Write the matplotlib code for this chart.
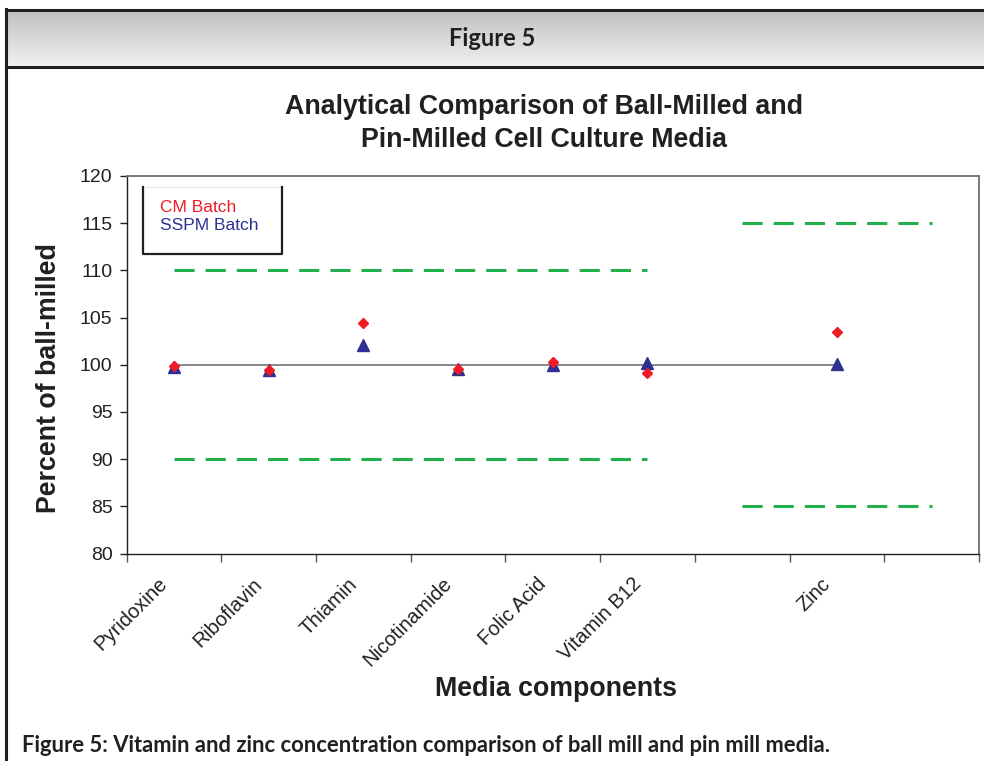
import numpy as np
import matplotlib
matplotlib.use("Agg")
import matplotlib.pyplot as plt
from matplotlib.lines import Line2D
from matplotlib.transforms import ScaledTranslation
from matplotlib.colors import LinearSegmentedColormap

# ---------------- data ----------------
categories = ["Pyridoxine", "Riboflavin", "Thiamin", "Nicotinamide", "Folic Acid",
              "Vitamin B12", "", "Zinc", ""]
cm_batch = [99.9, 99.4, 104.4, 99.6, 100.3, 99.1, None, 103.5, None]
sspm_batch = [99.8, 99.4, 102.1, 99.5, 100.0, 100.2, None, 100.1, None]
reference_line = [100, 100, 100, 100, 100, 100, 100, 100, None]
vit_upper = [110, 110, 110, 110, 110, 110, None, None, None]
vit_lower = [90, 90, 90, 90, 90, 90, None, None, None]
zinc_upper = [None, None, None, None, None, None, 115, 115, 115]
zinc_lower = [None, None, None, None, None, None, 85, 85, 85]
y_ticks = [80, 85, 90, 95, 100, 105, 110, 115, 120]

W, H = 984, 761
fig = plt.figure(figsize=(W / 100, H / 100), dpi=100)
fig.patch.set_facecolor("white")

def fx(px):
    return px / W

def fy(py):
    return 1 - py / H

def arr(v):
    return np.array([np.nan if a is None else a for a in v], dtype=float)

x = np.arange(len(categories))

# ---------------- header band ----------------
hax = fig.add_axes([fx(6), fy(67), fx(W) - fx(6), fy(10) - fy(67)])
grad = np.linspace(0, 1, 100).reshape(-1, 1)
cmap = LinearSegmentedColormap.from_list("hdr", ["#bfc0c0", "#f0f1f0"])
hax.imshow(grad, aspect="auto", cmap=cmap, extent=[0, 1, 0, 1], origin="upper")
hax.set_axis_off()
fig.text(fx(492), fy(39), "Figure 5", ha="center", va="center",
         fontsize=17, fontweight="bold", family="Lato", color="#231f20")

# borders
fig.add_artist(Line2D([fx(6), 1], [fy(10), fy(10)], color="#231f20", lw=2.2))
fig.add_artist(Line2D([fx(6), 1], [fy(67), fy(67)], color="#231f20", lw=2.2))
fig.add_artist(Line2D([fx(6), fx(6)], [fy(9), 0], color="#231f20", lw=2.2))

# ---------------- main axes ----------------
ax = fig.add_axes([fx(126.5), fy(553.5), fx(979) - fx(126.5), fy(176) - fy(553.5)])
ax.set_xlim(-0.5, len(categories) - 0.5)
ax.set_ylim(80, 120)

green = "#21b04b"
dash = dict(color=green, lw=2.2, dashes=(6.6, 3.6), dash_capstyle="butt", zorder=2)
ax.plot(x, arr(vit_upper), **dash)
ax.plot(x, arr(vit_lower), **dash)
ax.plot(x, arr(zinc_upper), **dash)
ax.plot(x, arr(zinc_lower), **dash)
ax.plot(x, arr(reference_line), color="#7f7f7f", lw=1.3, zorder=3)

ax.plot(x, arr(sspm_batch), linestyle="none", marker="^", ms=9,
        color="#2e3192", markeredgecolor="#2e3192", zorder=4)
ax.plot(x, arr(cm_batch), linestyle="none", marker="D", ms=5,
        color="#ed1c24", markeredgecolor="#ed1c24", zorder=5)

# spines
for s in ["left", "bottom"]:
    ax.spines[s].set_color("#231f20")
    ax.spines[s].set_linewidth(1.0)
for s in ["top", "right"]:
    ax.spines[s].set_color("#6d6e70")
    ax.spines[s].set_linewidth(1.3)

ax.set_yticks(y_ticks)
ax.set_yticklabels([str(v) for v in y_ticks], fontsize=14, family="Liberation Sans",
                   color="#231f20")
ax.tick_params(axis="y", direction="out", length=5, width=1, pad=5, colors="#231f20")

ax.set_xticks(np.arange(-0.5, len(categories), 1.0))
ax.set_xticklabels([])
ax.tick_params(axis="x", which="major", direction="out", length=6, width=1,
               colors="#555555")
ax.set_xticks(x, minor=True)
ax.set_xticklabels(categories, minor=True, rotation=45, ha="right",
                   rotation_mode="anchor", fontsize=14.5, family="Liberation Sans",
                   color="#231f20")
ax.tick_params(axis="x", which="minor", length=0, pad=15)
for lab in ax.get_xticklabels(minor=True):
    lab.set_transform(lab.get_transform() + ScaledTranslation(-0.16, 0, fig.dpi_scale_trans))

# legend box (drawn manually)
lx0, lx1, ly0, ly1 = 143, 282, 187, 254
fig.add_artist(Line2D([fx(lx0), fx(lx1)], [fy(ly0), fy(ly0)], color="#e6e6e6", lw=0.8))
fig.add_artist(Line2D([fx(lx0), fx(lx0), fx(lx1), fx(lx1)],
                      [fy(ly0), fy(ly1), fy(ly1), fy(ly0)], color="#231f20", lw=1.6))
fig.text(fx(160), fy(207), "CM Batch", color="#ed1c24", fontsize=12.5,
         family="Liberation Sans", ha="left", va="center")
fig.text(fx(160), fy(226), "SSPM Batch", color="#2e3192", fontsize=12.5,
         family="Liberation Sans", ha="left", va="center")

# titles / labels
tkw = dict(fontsize=19.3, fontweight="bold", family="Liberation Sans", color="#231f20")
fig.text(fx(544), fy(107), "Analytical Comparison of Ball-Milled and", ha="center",
         va="center", **tkw)
fig.text(fx(544), fy(140), "Pin-Milled Cell Culture Media", ha="center",
         va="center", **tkw)
fig.text(fx(49), fy(378), "Percent of ball-milled", rotation=90, ha="center",
         va="center", **tkw)
fig.text(fx(556), fy(689), "Media components", ha="center", va="center", **tkw)

fig.text(fx(22), fy(745), "Figure 5: Vitamin and zinc concentration comparison of ball mill and pin mill media.",
         ha="left", va="center", fontsize=15.8, fontweight="bold", family="Lato",
         color="#231f20")

fig.savefig("out.png", dpi=100)
